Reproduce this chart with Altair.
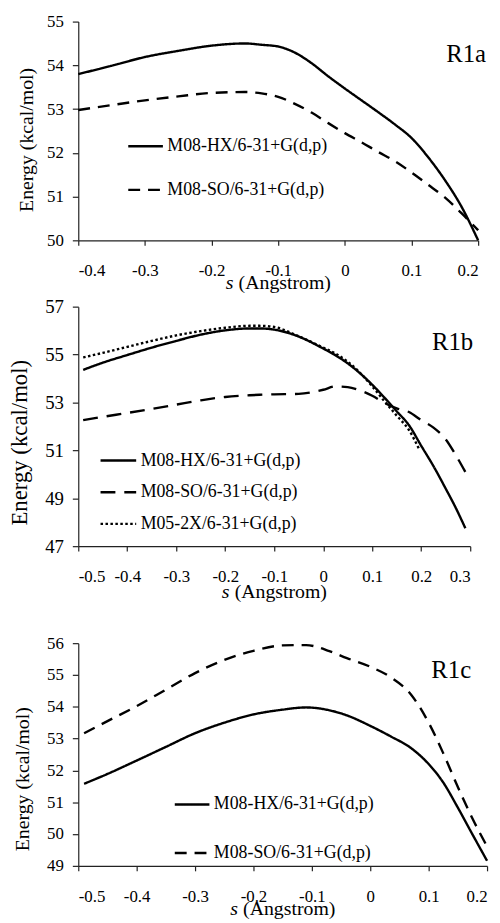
import altair as alt
import pandas as pd

FONT = "Liberation Serif"

HX = "M08-HX/6-31+G(d,p)"
SO = "M08-SO/6-31+G(d,p)"
X2 = "M05-2X/6-31+G(d,p)"

s1 = [-0.4, -0.35, -0.3, -0.25, -0.2, -0.15, -0.125, -0.1, -0.075, -0.05, -0.025,
      0, 0.025, 0.05, 0.075, 0.1, 0.125, 0.15, 0.175, 0.2]
hx1 = [53.80, 53.99, 54.19, 54.33, 54.45, 54.50, 54.47, 54.43, 54.29, 54.05, 53.75,
       53.47, 53.20, 52.93, 52.65, 52.34, 51.90, 51.38, 50.77, 50.00]
so1 = [52.98, 53.09, 53.20, 53.29, 53.37, 53.39, 53.36, 53.28, 53.12, 52.92, 52.68,
       52.45, 52.24, 52.02, 51.81, 51.55, 51.27, 50.98, 50.62, 50.23]

s2 = [-0.49, -0.45, -0.4, -0.35, -0.3, -0.25, -0.2, -0.15, -0.13, -0.1, -0.05, 0,
      0.025, 0.05, 0.075, 0.1, 0.125, 0.15, 0.175, 0.2, 0.225, 0.25, 0.27, 0.29]
hx2 = [54.36, 54.66, 54.98, 55.29, 55.57, 55.83, 56.01, 56.09, 56.09, 56.04, 55.75, 55.25,
       54.97, 54.63, 54.22, 53.74, 53.20, 52.63, 52.05, 51.19, 50.34, 49.40, 48.62, 47.75]
so2 = [52.26, 52.40, 52.56, 52.73, 52.91, 53.09, 53.23, 53.30, 53.32, 53.34, 53.36, 53.53,
       53.67, 53.64, 53.50, 53.28, 52.98, 52.75, 52.60, 52.26, 51.95, 51.46, 50.82, 50.10]
s2d = [-0.49, -0.45, -0.4, -0.35, -0.3, -0.25, -0.2, -0.15, -0.13, -0.1, -0.05, 0,
       0.025, 0.05, 0.075, 0.1, 0.125, 0.15, 0.175, 0.195]
x2d = [54.88, 55.07, 55.32, 55.57, 55.80, 55.98, 56.12, 56.20, 56.20, 56.15, 55.76, 55.29,
       55.04, 54.70, 54.24, 53.67, 53.05, 52.45, 51.85, 51.08]

s3 = [-0.49, -0.45, -0.4, -0.35, -0.3, -0.25, -0.2, -0.15, -0.11, -0.07, -0.04, 0,
      0.035, 0.07, 0.1, 0.125, 0.15, 0.175, 0.2]
hx3 = [51.58, 51.89, 52.31, 52.74, 53.17, 53.50, 53.76, 53.91, 53.98, 53.89, 53.73, 53.40,
       53.07, 52.70, 52.20, 51.62, 50.83, 49.99, 49.16]
so3 = [53.17, 53.55, 54.02, 54.54, 55.06, 55.47, 55.76, 55.93, 55.94, 55.75, 55.53, 55.26,
       54.93, 54.38, 53.50, 52.54, 51.48, 50.49, 49.61]

xticks1 = [-0.4, -0.3, -0.2, -0.1, 0, 0.1, 0.2]
yticks1 = [50, 51, 52, 53, 54, 55]
xticks2 = [-0.5, -0.4, -0.3, -0.2, -0.1, 0, 0.1, 0.2, 0.3]
yticks2 = [47, 49, 51, 53, 55, 57]
xticks3 = [-0.5, -0.4, -0.3, -0.2, -0.1, 0, 0.1, 0.2]
yticks3 = [49, 50, 51, 52, 53, 54, 55, 56]

AX = dict(labelFont=FONT, titleFont=FONT, labelColor="black", titleColor="black",
          titleFontWeight="normal", domainColor="#222", tickColor="#222",
          domainWidth=1.2, tickWidth=1.2, grid=False)


def frame(pairs):
    rows = []
    for name, xs, ys in pairs:
        for x, y in zip(xs, ys):
            rows.append({"s": x, "E": y, "series": name})
    return pd.DataFrame(rows)


def panel(df, names, dashes, xdom, xvals, ydom, yvals, w, h,
          lx, ly, rowpad, symsize, tag, tagx, tagy, ylabsize, ytitlesize,
          ytitlepad, ytitley, titlebase, toptitle=None):
    line = alt.Chart(df).mark_line(color="black", strokeWidth=2.4,
                                    interpolate="monotone").encode(
        x=alt.X("s:Q", scale=alt.Scale(domain=xdom, nice=False, zero=False),
                axis=alt.Axis(values=xvals, labelExpr="toString(datum.value)",
                              title=None, tickSize=5,
                              labelPadding=18, labelFontSize=17, **AX)),
        y=alt.Y("E:Q", scale=alt.Scale(domain=ydom, nice=False, zero=False),
                axis=alt.Axis(values=yvals, title="Energy (kcal/mol)",
                              tickSize=6, labelPadding=9,
                              labelFontSize=ylabsize, titleFontSize=ytitlesize,
                              titlePadding=ytitlepad, titleY=ytitley, **AX)),
        strokeDash=alt.StrokeDash(
            "series:N",
            scale=alt.Scale(domain=names, range=dashes),
            legend=alt.Legend(orient="none", legendX=lx, legendY=ly, title=None,
                              symbolType="stroke", symbolSize=symsize,
                              symbolStrokeWidth=2.4, symbolStrokeColor="black",
                              labelFont=FONT, labelFontSize=18, labelColor="black",
                              labelOffset=3, labelLimit=400, rowPadding=rowpad,
                              padding=0)),
    )
    one = pd.DataFrame({"t": [tag]})
    label = alt.Chart(one).mark_text(font=FONT, fontSize=25, align="right",
                                     baseline="alphabetic", color="black").encode(
        text="t:N", x=alt.value(tagx), y=alt.value(tagy))
    cx = w / 2
    sdf = pd.DataFrame({"t": ["s"]})
    adf = pd.DataFrame({"t": ["(Angstrom)"]})
    st = alt.Chart(sdf).mark_text(font=FONT, fontSize=20, fontStyle="italic",
                                  align="left", baseline="alphabetic",
                                  color="black").encode(
        text="t:N", x=alt.value(cx - 53), y=alt.value(h + titlebase))
    at = alt.Chart(adf).mark_text(font=FONT, fontSize=20, align="left",
                                  baseline="alphabetic", color="black").encode(
        text="t:N", x=alt.value(cx - 40), y=alt.value(h + titlebase))
    props = dict(width=w, height=h)
    if toptitle is not None:
        props["title"] = toptitle
    return alt.layer(line, label, st, at).properties(**props)


df1 = frame([(HX, s1, hx1), (SO, s1, so1)])
df2 = frame([(HX, s2, hx2), (SO, s2, so2), (X2, s2d, x2d)])
df3 = frame([(HX, s3, hx3), (SO, s3, so3)])

p1 = panel(df1, [HX, SO], [[1, 0], [12, 8]], [-0.4, 0.2], xticks1, [50, 55], yticks1,
           404, 221, 49, 107, 16, 1225, "R1a", 412, 41, 17, 20, 10, 119, 49)
p2 = panel(df2, [HX, SO, X2], [[1, 0], [15, 9], [2.5, 2.5]], [-0.5, 0.3], xticks2,
           [47, 57], yticks2, 396, 242, 21, 136, 3, 1296, "R1b", 399, 44, 19, 23, 13,
           137, 52)
p3 = panel(df3, [HX, SO], [[1, 0], [12, 8]], [-0.5, 0.2], xticks3, [49, 56], yticks3,
           413, 225, 96, 144, 21, 1225, "R1c", 397, 35, 17, 20, 14, 137, 50,
           toptitle=alt.TitleParams(" ", fontSize=16, offset=12))

chart = alt.concat(p1, p2, p3, columns=1, spacing=5).properties(
    align="none",
    padding={"left": 1, "top": 0, "right": 0, "bottom": 0},
).resolve_scale(strokeDash="independent").resolve_legend(
    strokeDash="independent"
).configure(
    font=FONT,
    style={"guide-label": {"font": FONT},
           "guide-title": {"font": FONT, "fontWeight": "normal"}},
).configure_view(stroke=None).configure_axis(
    labelFont=FONT, titleFont=FONT, titleFontWeight="normal"
)

chart.save("out.html", embed_options={"renderer": "svg", "actions": False})
